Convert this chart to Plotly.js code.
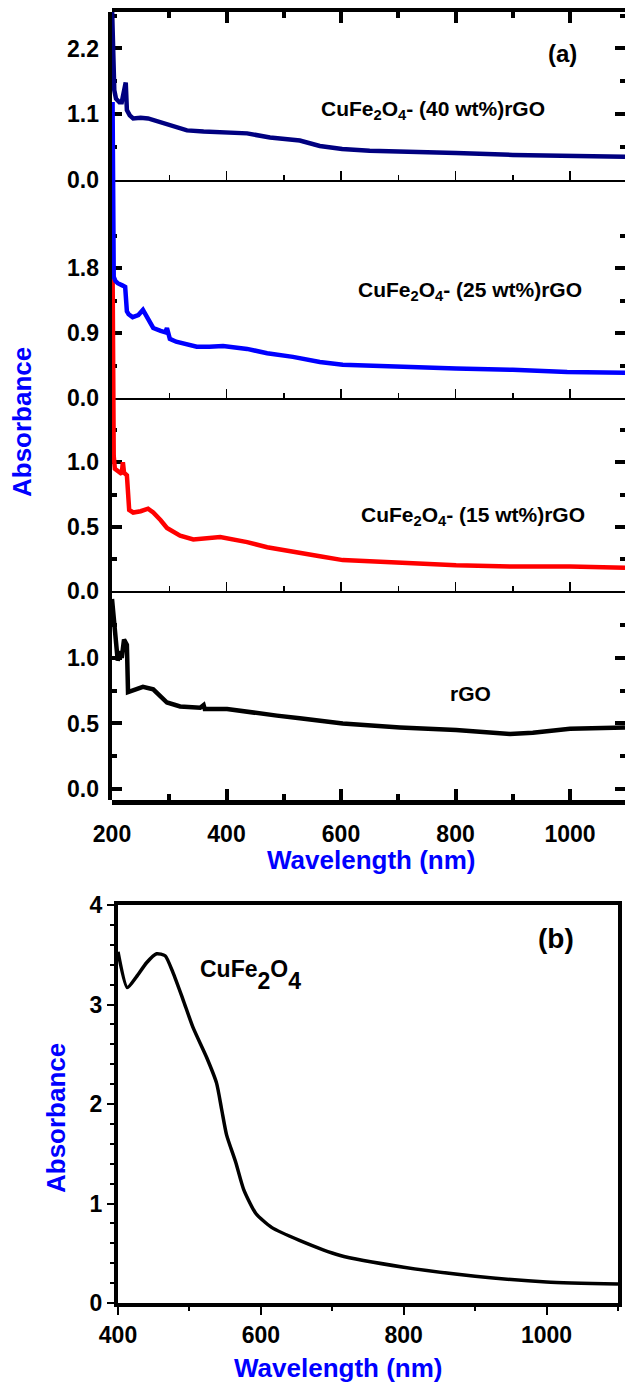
<!DOCTYPE html>
<html><head><meta charset="utf-8">
<script src="https://cdn.plot.ly/plotly-3.0.1.min.js"></script>
<style>html,body{margin:0;padding:0;background:#fff}</style>
</head><body><div id="chart" style="width:625px;height:1382px"></div>
<script>
// ---------- data ----------
const wl40  = [200,201,202,204,207,213,217,224,226,231,237,250,263,280,296,315,331,360,383,405,436,476,500,528,563,602,650,703,801,900,1000,1096];
const abs40 = [2.9,2.5,1.9,1.5,1.36,1.3,1.3,1.63,1.17,1.08,1.03,1.04,1.03,0.98,0.92,0.86,0.83,0.81,0.80,0.80,0.78,0.71,0.68,0.66,0.57,0.52,0.49,0.47,0.45,0.42,0.40,0.39];

const wl25  = [201,202,203,206,210,218,223,226,229,236,246,254,263,272,285,293,296,301,312,324,348,370,394,436,471,516,563,603,703,801,900,995,1096];
const abs25 = [4.1,2.6,1.68,1.62,1.59,1.56,1.54,1.20,1.16,1.12,1.15,1.22,1.08,0.97,0.93,0.91,0.97,0.82,0.78,0.76,0.71,0.71,0.72,0.68,0.62,0.57,0.50,0.46,0.43,0.41,0.39,0.36,0.35];

const wl15  = [200,201,203,205,212,217,219,221,226,228,230,237,250,263,272,285,296,319,342,389,436,471,516,563,603,703,801,900,1000,1096];
const abs15 = [3.25,2.0,1.05,0.95,0.93,0.91,1.0,0.92,0.90,0.70,0.63,0.61,0.62,0.64,0.61,0.55,0.49,0.43,0.40,0.42,0.38,0.34,0.31,0.27,0.24,0.22,0.20,0.19,0.19,0.18];

const wlRGO  = [200,202,205,209,210,214,217,221,226,228,237,254,272,296,319,354,360,362,401,446,488,528,563,603,703,801,895,935,1000,1096];
const absRGO = [1.45,1.37,1.2,1.08,0.98,1.05,1.0,1.14,1.10,0.74,0.755,0.78,0.76,0.66,0.63,0.62,0.64,0.61,0.61,0.58,0.56,0.54,0.52,0.50,0.47,0.45,0.42,0.43,0.46,0.47];

const wlFe  = [400,413,426,440,454,466,477,491,505,524,538,545,552,565,576,593,615,654,710,800,900,1000,1100];
const absFe = [3.53,3.17,3.28,3.42,3.51,3.49,3.32,3.05,2.77,2.47,2.21,1.95,1.69,1.41,1.14,0.90,0.76,0.63,0.48,0.36,0.27,0.21,0.19];

// tick values / labels
const tickRGO = [0,0.5,1.0], labRGO = ['0.0','0.5','1.0'], minRGO = [0.25,0.75,1.25];
const tick15  = [0,0.5,1.0], lab15  = ['0.0','0.5','1.0'], min15  = [0.25,0.75,1.25];
const tick25  = [0,0.9,1.8], lab25  = ['0.0','0.9','1.8'], min25  = [0.45,1.35,2.25];
const tick40  = [0,1.1,2.2], lab40  = ['0.0','1.1','2.2'], min40  = [0.55,1.65,2.75];

const labels = ['CuFe<sub>2</sub>O<sub>4</sub>- (40 wt%)rGO','CuFe<sub>2</sub>O<sub>4</sub>- (25 wt%)rGO','CuFe<sub>2</sub>O<sub>4</sub>- (15 wt%)rGO','rGO'];
const labelFe = 'CuFe<span style="baseline-shift:-0.5em">2</span>O<span style="baseline-shift:-0.5em">4</span>';

// ---------- geometry ----------
const W = 625, H = 1382;
const PX = v => v / W, PY = v => 1 - v / H;
const FONT = 'Liberation Sans, Arial, Helvetica, sans-serif';
const tf = () => ({family: FONT, size: 23, color: '#000', weight: 'bold'});
const xrA = [200, 1096];
const rowR  = {top: 591, bot: 800, range: [-0.084, 1.511]};
const row15 = {top: 398, bot: 591, range: [0, 1.5]};
const row25 = {top: 180, bot: 398, range: [0, 3.02]};
const row40 = {top: 12,  bot: 180, range: [0, 2.81]};
const TOPA = 12;
function extRange(row){ const r = row.range; return [r[0], r[0] + (r[1]-r[0])*(row.bot-TOPA)/(row.bot-row.top)]; }

function xa(anchor, thick, labels){
  return {domain:[PX(112),1], range:xrA, anchor:anchor, showline:true, linecolor:'#000',
    linewidth: thick?4.5:1.5, ticks:'inside', ticklen: thick?11:9, tickwidth: thick?4:1.5, tickcolor:'#000',
    tickmode:'linear', tick0:200, dtick:200,
    minor:{dtick:100, ticks:'inside', ticklen: thick?6:5, tickwidth: thick?4:1.5, tickcolor:'#000'},
    showgrid:false, zeroline:false, showticklabels: !!labels, tickfont: tf(), ticklabelstandoff: 10,
    layer:'below traces', fixedrange:true};
}
function ya(anchor, row, tv, tt, mv){
  return {domain:[PY(row.bot), PY(row.top)], range: row.range, anchor: anchor, showline:false,
    mirror:'ticks', ticks:'inside', ticklen:10, tickwidth:4, tickcolor:'#000',
    tickmode:'array', tickvals: tv, ticktext: tt,
    minor:{tickmode:'array', tickvals: mv, ticks:'inside', ticklen:5, tickwidth:4, tickcolor:'#000'},
    showgrid:false, zeroline:false, tickfont: tf(), ticklabelstandoff: 12, layer:'below traces', fixedrange:true};
}
function hx(anchor){ return {domain:[PX(112),1], range:xrA, anchor:anchor, visible:false, fixedrange:true}; }
const empty = (xa_, ya_) => ({x:[], y:[], xaxis:xa_, yaxis:ya_, mode:'lines', hoverinfo:'skip', showlegend:false});

const traces = [
  empty('x','y8'),
  empty('x2','y2'),
  empty('x3','y3'),
  empty('x5','y4'),
  {x: wlRGO, y: absRGO, xaxis:'x', yaxis:'y', mode:'lines', line:{color:'#000000', width:4.5}, showlegend:false},
  {x: wl15, y: abs15, xaxis:'x7', yaxis:'y5', mode:'lines', line:{color:'#ff0000', width:4.5}, showlegend:false},
  {x: wl25, y: abs25, xaxis:'x8', yaxis:'y6', mode:'lines', line:{color:'#0000ff', width:4.5}, showlegend:false},
  {x: wl40, y: abs40, xaxis:'x4', yaxis:'y4', mode:'lines', line:{color:'#000080', width:4.5}, showlegend:false},
  {x: wlFe, y: absFe, xaxis:'x6', yaxis:'y7', mode:'lines', line:{color:'#000000', width:3.5, shape:'spline', smoothing:0.6}, showlegend:false}
];

const layout = {
  width: W, height: H, margin:{l:0,r:0,t:0,b:0}, paper_bgcolor:'#fff', plot_bgcolor:'rgba(0,0,0,0)',
  showlegend:false,
  xaxis: xa('y', true, true),
  xaxis2: xa('y2', false, false),
  xaxis3: xa('y3', false, false),
  xaxis4: xa('y4', false, false),
  xaxis5: Object.assign(xa('y4', true, false), {side:'top', overlaying:'x4'}),
  xaxis7: hx('y5'),
  xaxis8: hx('y6'),
  yaxis: ya('x', rowR, tickRGO, labRGO, minRGO),
  yaxis2: ya('x2', row15, tick15, lab15, min15),
  yaxis3: ya('x3', row25, tick25, lab25, min25),
  yaxis4: ya('x4', row40, tick40, lab40, min40),
  yaxis5: {domain:[PY(row15.bot), PY(TOPA)], range: extRange(row15), anchor:'x7', visible:false, fixedrange:true},
  yaxis6: {domain:[PY(row25.bot), PY(TOPA)], range: extRange(row25), anchor:'x8', visible:false, fixedrange:true},
  yaxis8: {domain:[PY(800), PY(TOPA)], range:[0,1], anchor:'x', showline:true, linewidth:4.5, linecolor:'#000',
           mirror:true, ticks:'', showticklabels:false, showgrid:false, zeroline:false, layer:'below traces', fixedrange:true},
  xaxis6: {domain:[PX(118), PX(618)], range:[400,1100], anchor:'y7', showline:true, mirror:true, linewidth:4, linecolor:'#000',
           ticks:'outside', ticklen:8, tickwidth:2, tickcolor:'#000', tickmode:'linear', tick0:400, dtick:200,
           minor:{dtick:100, ticks:'outside', ticklen:4, tickwidth:2, tickcolor:'#000'},
           showgrid:false, zeroline:false, tickfont: tf(), fixedrange:true},
  yaxis7: {domain:[PY(1303), PY(905)], range:[0,4], anchor:'x6', showline:true, mirror:true, linewidth:4, linecolor:'#000',
           ticks:'outside', ticklen:7, tickwidth:2, tickcolor:'#000', tickmode:'linear', tick0:0, dtick:1,
           minor:{dtick:0.2, ticks:'outside', ticklen:4, tickwidth:2, tickcolor:'#000'},
           showgrid:false, zeroline:false, tickfont: tf(), fixedrange:true},
  annotations: [
    {text:'(a)', x:PX(562), y:PY(54), font:{family:FONT,size:24,color:'#000',weight:'bold'}},
    {text:labels[0], x:PX(433), y:PY(110), font:{family:FONT,size:21,color:'#000',weight:'bold'}},
    {text:labels[1], x:PX(470), y:PY(291), font:{family:FONT,size:21,color:'#000',weight:'bold'}},
    {text:labels[2], x:PX(473), y:PY(516), font:{family:FONT,size:21,color:'#000',weight:'bold'}},
    {text:labels[3], x:PX(470), y:PY(694), font:{family:FONT,size:21,color:'#000',weight:'bold'}},
    {text:'Absorbance', x:PX(22), y:PY(422), textangle:-90, font:{family:FONT,size:26,color:'#0000ff',weight:'bold'}},
    {text:'Wavelength (nm)', x:PX(371), y:PY(860), font:{family:FONT,size:26,color:'#0000ff',weight:'bold'}},
    {text:'(b)', x:PX(556), y:PY(938), font:{family:FONT,size:28,color:'#000',weight:'bold'}},
    {text:labelFe, x:PX(250), y:PY(975), font:{family:FONT,size:23,color:'#000',weight:'bold'}},
    {text:'Absorbance', x:PX(56), y:PY(1118), textangle:-90, font:{family:FONT,size:26,color:'#0000ff',weight:'bold'}},
    {text:'Wavelength (nm)', x:PX(338), y:PY(1368), font:{family:FONT,size:26,color:'#0000ff',weight:'bold'}}
  ].map(a => Object.assign({xref:'paper', yref:'paper', showarrow:false, xanchor:'center', yanchor:'middle'}, a))
};

Plotly.newPlot('chart', traces, layout, {staticPlot:true, displayModeBar:false});
</script></body></html>
